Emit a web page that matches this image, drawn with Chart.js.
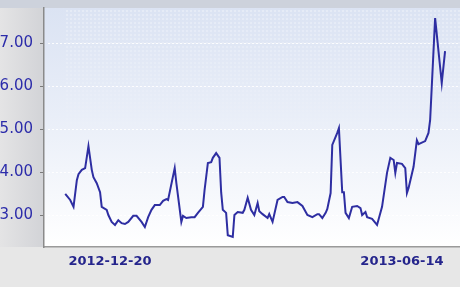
<!DOCTYPE html>
<html>
<head>
<meta charset="utf-8">
<script src="https://cdn.jsdelivr.net/npm/chart.js@4"></script>
<style>
  html, body { margin: 0; padding: 0; background: #e7e7e7; }
  #wrap { width: 460px; height: 287px; }
</style>
</head>
<body>
<div id="wrap"><canvas id="c" width="460" height="287"></canvas></div>
<script>
// ===== DATA =====
// day offsets from 2012-12-20
const days = [
  -27, -24, -22, -20, -19, -17, -15, -13, -11, -10, -8, -6, -5, -2, -1,
  1, 3, 5, 7, 9, 11, 14, 16, 19, 21, 23, 25, 27, 30, 32, 34, 35,
  39, 40, 43, 44, 46, 49, 51, 53, 56, 57, 59, 61, 62, 64, 66, 67, 68, 70,
  71, 74, 75, 77, 80, 81, 83, 85, 87, 89, 90, 92, 95, 96, 98,
  101, 104, 105, 107, 110, 113, 116, 119, 122, 125, 126, 128, 130, 131,
  133, 134, 137, 138, 140, 141, 142, 144, 146, 149, 151, 152, 154, 155, 158,
  161, 164, 167, 169, 171, 172, 173, 176, 178, 179, 180, 183, 185, 186,
  190, 192, 193, 196, 200, 202
];
const values = [
  3.49, 3.35, 3.19, 3.81, 3.95, 4.05, 4.09, 4.60, 4.05, 3.88, 3.74, 3.53, 3.19, 3.12, 3.00,
  2.84, 2.77, 2.88, 2.81, 2.79, 2.84, 2.98, 2.98, 2.84, 2.72, 2.95, 3.12, 3.23, 3.23, 3.33, 3.37, 3.35,
  4.09, 3.74, 2.84, 2.98, 2.93, 2.95, 2.95, 3.05, 3.19, 3.58, 4.21, 4.23, 4.33, 4.44, 4.33, 3.53, 3.12, 3.05,
  2.53, 2.49, 3.00, 3.07, 3.05, 3.12, 3.40, 3.12, 3.00, 3.28, 3.09, 3.02, 2.93, 3.02, 2.84,
  3.35, 3.42, 3.42, 3.30, 3.28, 3.30, 3.21, 3.00, 2.95, 3.02, 3.02, 2.93, 3.05, 3.14,
  3.51, 4.63, 4.91, 5.02, 3.53, 3.53, 3.05, 2.93, 3.19, 3.21, 3.16, 3.00, 3.07, 2.95, 2.91,
  2.77, 3.19, 3.98, 4.33, 4.28, 3.98, 4.21, 4.19, 4.09, 3.51, 3.63, 4.12, 4.74, 4.65,
  4.72, 4.91, 5.21, 7.58, 6.07, 6.81
];
const xTickDays = [0, 176];
const xTickLabels = ['2012-12-20', '2013-06-14'];
const yTicks = [3, 4, 5, 6, 7];

// ===== BACKGROUND =====
const backdrop = {
  id: 'backdrop',
  beforeDraw(chart) {
    const { ctx, chartArea: a, width, height } = chart;
    ctx.save();
    ctx.fillStyle = '#e7e7e7';
    ctx.fillRect(0, 0, width, height);
    // left strip behind the y labels
    const lg = ctx.createLinearGradient(0, 0, a.left, 0);
    lg.addColorStop(0, '#e4e4e5');
    lg.addColorStop(1, '#d2d3d7');
    ctx.fillStyle = lg;
    ctx.fillRect(0, 0, a.left, a.bottom);
    // top strip
    ctx.fillStyle = '#cdd2dc';
    ctx.fillRect(0, 0, width, a.top);
    // plot area
    const g = ctx.createLinearGradient(0, a.top, 0, a.bottom);
    g.addColorStop(0, '#dbe3f3');
    g.addColorStop(0.45, '#e9eef8');
    g.addColorStop(1, '#ffffff');
    ctx.fillStyle = g;
    ctx.fillRect(a.left, a.top, a.right - a.left, a.bottom - a.top);
    // dotted texture, fading downwards
    const h = a.bottom - a.top;
    for (let y = a.top + 2; y < a.top + h * 0.6; y += 4) {
      const alpha = 0.3 * (1 - (y - a.top) / (h * 0.6));
      ctx.fillStyle = `rgba(255,255,255,${alpha.toFixed(3)})`;
      for (let x = a.left + 22; x < a.right; x += 4) ctx.fillRect(x, y, 2, 2);
    }
    // dotted grid lines
    const ys = chart.scales.y;
    ctx.fillStyle = 'rgba(255,255,255,0.9)';
    yTicks.forEach(v => {
      const py = Math.round(ys.getPixelForValue(v));
      for (let x = a.left + 4; x < a.right; x += 4) ctx.fillRect(x, py, 2, 1);
    });
    ctx.restore();
  }
};

// ===== CHART =====
new Chart(document.getElementById('c'), {
  type: 'line',
  data: {
    datasets: [{
      data: days.map((d, i) => ({ x: d, y: values[i] })),
      borderColor: '#2e2ea2',
      borderWidth: 2,
      pointRadius: 0,
      tension: 0,
      fill: false
    }]
  },
  options: {
    responsive: false,
    animation: false,
    layout: { padding: { top: 8, left: 0, right: 0, bottom: 0 } },
    plugins: { legend: { display: false }, tooltip: { enabled: false } },
    scales: {
      x: {
        type: 'linear',
        min: -39.8,
        max: 211,
        afterFit: s => { s.height = 40; s.paddingLeft = 0; s.paddingRight = 0; },
        afterBuildTicks: s => { s.ticks = xTickDays.map(v => ({ value: v })); },
        grid: { display: false, drawTicks: false },
        border: { display: true, color: '#9a9a9a', width: 1.5 },
        ticks: {
          autoSkip: false,
          maxRotation: 0,
          padding: 7,
          color: '#25258c',
          font: { family: 'DejaVu Sans', size: 13, weight: 'bold' },
          callback: (v, i) => xTickLabels[i]
        }
      },
      y: {
        min: 2.256,
        max: 7.814,
        afterFit: s => { s.width = 44; s.paddingTop = 0; s.paddingBottom = 0; },
        afterBuildTicks: s => { s.ticks = yTicks.map(v => ({ value: v })); },
        grid: { drawOnChartArea: false, tickLength: 4, tickColor: '#7a7a7a' },
        border: { display: true, color: '#8a8a8a', width: 1.5 },
        ticks: {
          padding: 7,
          color: '#2c2caa',
          font: { family: 'DejaVu Sans', size: 15 },
          callback: v => v.toFixed(2)
        }
      }
    }
  },
  plugins: [backdrop]
});
</script>
</body>
</html>
